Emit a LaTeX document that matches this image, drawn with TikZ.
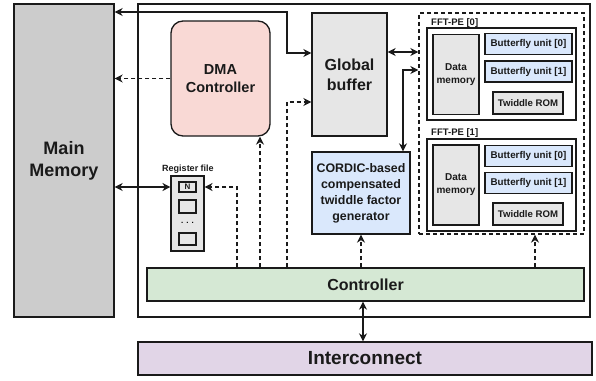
\documentclass[tikz,border=0pt]{standalone}
\usepackage{fontspec}
\setmainfont{Liberation Sans}
\usepackage{tikz}
\usetikzlibrary{positioning,arrows.meta,calc}
\definecolor{ink}{HTML}{1A1A1A}
\definecolor{memGray}{HTML}{CCCCCC}
\definecolor{boxGray}{HTML}{E6E6E6}
\definecolor{unitBlue}{HTML}{DAE8FC}
\definecolor{dmaPink}{HTML}{F9D9D5}
\definecolor{ctrlGreen}{HTML}{D5E8D4}
\definecolor{netPurple}{HTML}{E1D5E7}
\tikzset{
  blk/.style={rectangle, draw=ink, line width=1.3pt, align=center, font=\bfseries, text=ink, inner sep=0pt},
  lbl/.style={font=\bfseries\fontsize{9.5}{11}\selectfont, text=ink, inner sep=0pt},
}
\begin{document}
\begin{tikzpicture}[x=1pt, y=-1pt,
  unit/.style={blk, line width=1.1pt, minimum width=87pt, minimum height=21pt, fill=unitBlue, font=\bfseries\fontsize{9.8}{11}\selectfont},
  rom/.style={blk, line width=1.1pt, minimum width=70pt, minimum height=22pt, fill=boxGray, font=\bfseries\fontsize{9.6}{11}\selectfont},
  dmem/.style={blk, line width=1.1pt, minimum width=46pt, minimum height=80pt, fill=boxGray, font=\bfseries\fontsize{10}{13}\selectfont},
  pe/.style={blk, minimum width=149pt, minimum height=92pt, fill=white},
  cell/.style={blk, line width=1.1pt, minimum width=17pt, fill=boxGray, font=\bfseries\fontsize{8}{9}\selectfont},
  biarr/.style={{Stealth[length=8pt,width=8pt,inset=2.5pt]}-{Stealth[length=8pt,width=8pt,inset=2.5pt]}, line width=1.3pt, ink},
  darr/.style={-{Stealth[length=8pt,width=8pt,inset=2.5pt]}, line width=1.3pt, ink, dash pattern=on 4pt off 3pt}]
\useasboundingbox (0,0) rectangle (596,380);
% outer blocks
\node[blk, minimum width=100pt, minimum height=313pt, fill=memGray, font=\bfseries\fontsize{18}{22}\selectfont] (mm) at (64,160.5) {Main\\Memory};
\node[blk, minimum width=452pt, minimum height=313pt] (chip) at (364,160.5) {};
\node[blk, minimum width=454pt, minimum height=33pt, fill=netPurple, font=\bfseries\fontsize{19}{22}\selectfont] (ic) at (365,358.5) {Interconnect};
% inside the chip
\node[blk, rounded corners=12pt, minimum width=99pt, minimum height=115pt, fill=dmaPink, font=\bfseries\fontsize{14.5}{18}\selectfont] (dma) at (220.5,78.5) {DMA\\Controller};
\node[blk, minimum width=75pt, minimum height=123pt, fill=boxGray, font=\bfseries\fontsize{16}{20}\selectfont] (gbuf) at (349.5,74.5) {Global\\buffer};
\node[blk, minimum width=98pt, minimum height=82pt, fill=unitBlue, font=\bfseries\fontsize{12.4}{16}\selectfont] (cordic) at (361,193) {CORDIC-based\\compensated\\twiddle factor\\generator};
\node[blk, minimum width=437pt, minimum height=33pt, fill=ctrlGreen, font=\bfseries\fontsize{16}{19}\selectfont] (ctrl) at (365.5,284.5) {Controller};
% register file
\node[blk, line width=1.1pt, minimum width=33pt, minimum height=75pt, fill=boxGray] (rf) at (187.5,213.5) {};
\node[lbl, font=\bfseries\fontsize{9}{10}\selectfont] (rflbl) at (188,169) {Register file};
\node[cell, minimum height=10pt] (rfN) at (187.5,187) {N};
\node[cell, minimum height=13pt] (rfA) at (187.5,206.5) {};
\node[font=\bfseries\fontsize{8}{8}\selectfont, inner sep=0pt] (rfdots) at (187.5,223) {. . .};
\node[cell, minimum height=12pt] (rfB) at (187.5,239) {};
% FFT processing elements
\node[blk, dash pattern=on 4pt off 3pt, minimum width=165pt, minimum height=221pt] (fft) at (501.5,123.5) {};
\node[pe] (pe0) at (501.5,74) {};
\node[lbl, anchor=west] (pe0lbl) at (431,23) {FFT-PE [0]};
\node[dmem] (dm0) at (456,74.5) {Data\\memory};
\node[unit] (bf00) at (528.5,44) {Butterfly unit [0]};
\node[unit] (bf01) at (528.5,71.5) {Butterfly unit [1]};
\node[rom] (tr0) at (528,103) {Twiddle ROM};
\node[pe] (pe1) at (501.5,185) {};
\node[lbl, anchor=west] (pe1lbl) at (431,133) {FFT-PE [1]};
\node[dmem] (dm1) at (456,185) {Data\\memory};
\node[unit] (bf10) at (528.5,156) {Butterfly unit [0]};
\node[unit] (bf11) at (528.5,183) {Butterfly unit [1]};
\node[rom] (tr1) at (528,214) {Twiddle ROM};
% bend points
\coordinate (jMa) at (287,12);
\coordinate (jMb) at (287,53);
\coordinate (jGb) at (287,102);
\coordinate (jDma) at (260,0);
\coordinate (jRf) at (237,187);
\coordinate (jFa) at (0,52);
\coordinate (jCo) at (403,70);
\coordinate (jFb) at (535,0);
\coordinate (jIc) at (363,0);
% connectors
\draw[biarr] (mm.east |- jMa) -- (jMa) -- (jMb) -- (gbuf.west |- jMb);
\draw[darr] (dma.west) -- (mm.east |- dma.west);
\draw[darr] (ctrl.north -| jGb) -- (jGb) -- (gbuf.west |- jGb);
\draw[darr] (ctrl.north -| jDma) -- (dma.south -| jDma);
\draw[darr] (ctrl.north -| jRf) -- (jRf) -- (rf.east |- jRf);
\draw[biarr] (mm.east |- jRf) -- (rf.west |- jRf);
\draw[biarr] (gbuf.east |- jFa) -- (fft.west |- jFa);
\draw[biarr] (cordic.north -| jCo) -- (jCo) -- (fft.west |- jCo);
\draw[darr] (ctrl.north -| cordic) -- (cordic.south);
\draw[darr] (ctrl.north -| jFb) -- (fft.south -| jFb);
\draw[biarr] (ctrl.south -| jIc) -- (ic.north -| jIc);
\end{tikzpicture}
\end{document}
